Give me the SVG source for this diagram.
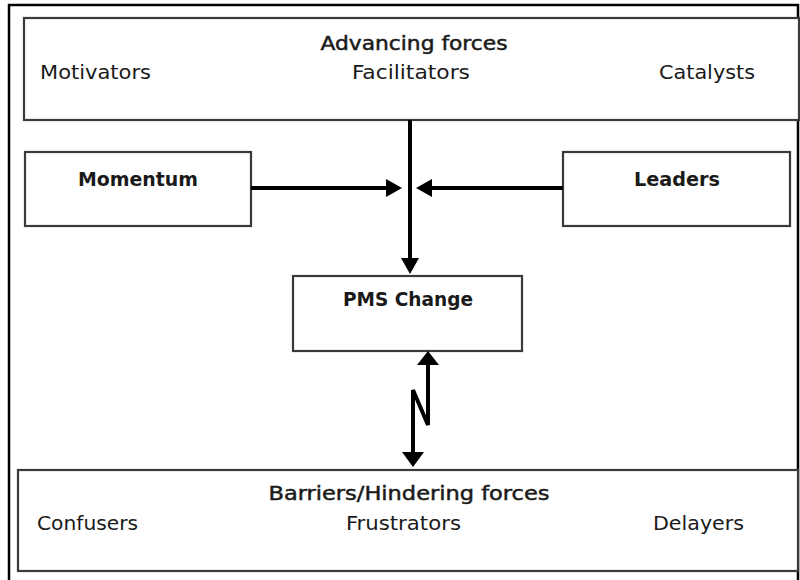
<svg xmlns="http://www.w3.org/2000/svg" width="800" height="580" viewBox="0 0 800 580">
  <style>
    .box { fill: #ffffff; stroke: #3a3a3a; stroke-width: 2.2; }
    .frame { fill: #ffffff; stroke: #000000; stroke-width: 2.5; }
    .lbl { font-family: "DejaVu Sans Condensed", "DejaVu Sans", sans-serif; font-size: 20px; fill: #1a1a1a; }
    .head { stroke: #1a1a1a; stroke-width: 0.45; }
    .bold { font-weight: bold; }
    .wire { fill: none; stroke: #000000; stroke-width: 4; }
    .tip { fill: #000000; stroke: none; }
  </style>

  <!-- outer frame -->
  <rect class="frame" x="9" y="5" width="789" height="580"/>

  <!-- advancing forces panel -->
  <g id="advancing-forces">
    <rect class="box" x="24" y="18" width="775" height="102"/>
    <text class="lbl head" x="414" y="50" text-anchor="middle" textLength="187" lengthAdjust="spacingAndGlyphs">Advancing forces</text>
    <text class="lbl" x="40" y="79" textLength="111" lengthAdjust="spacingAndGlyphs">Motivators</text>
    <text class="lbl" x="352" y="79" textLength="118" lengthAdjust="spacingAndGlyphs">Facilitators</text>
    <text class="lbl" x="659" y="79" textLength="96" lengthAdjust="spacingAndGlyphs">Catalysts</text>
  </g>

  <!-- momentum -->
  <g id="momentum">
    <rect class="box" x="25" y="152" width="226" height="74"/>
    <text class="lbl bold" x="138" y="186" text-anchor="middle" textLength="120" lengthAdjust="spacingAndGlyphs">Momentum</text>
  </g>

  <!-- leaders -->
  <g id="leaders">
    <rect class="box" x="563" y="152" width="227" height="74"/>
    <text class="lbl bold" x="677" y="186" text-anchor="middle" textLength="86" lengthAdjust="spacingAndGlyphs">Leaders</text>
  </g>

  <!-- PMS change -->
  <g id="pms-change">
    <rect class="box" x="293" y="276" width="229" height="75"/>
    <text class="lbl bold" x="408" y="306" text-anchor="middle" textLength="130" lengthAdjust="spacingAndGlyphs">PMS Change</text>
  </g>

  <!-- barriers / hindering forces panel -->
  <g id="hindering-forces">
    <rect class="box" x="18" y="470" width="780" height="101"/>
    <text class="lbl head" x="409" y="500" text-anchor="middle" textLength="281" lengthAdjust="spacingAndGlyphs">Barriers/Hindering forces</text>
    <text class="lbl" x="37" y="530" textLength="101" lengthAdjust="spacingAndGlyphs">Confusers</text>
    <text class="lbl" x="346" y="530" textLength="115" lengthAdjust="spacingAndGlyphs">Frustrators</text>
    <text class="lbl" x="653" y="530" textLength="91" lengthAdjust="spacingAndGlyphs">Delayers</text>
  </g>

  <!-- connectors -->
  <g id="connectors">
    <!-- advancing forces down to PMS change -->
    <line class="wire" x1="410" y1="120" x2="410" y2="259"/>
    <polygon class="tip" points="401,258 419,258 410,274"/>
    <!-- momentum into main flow -->
    <line class="wire" x1="251" y1="188" x2="388" y2="188"/>
    <polygon class="tip" points="386,179 386,197 402,188"/>
    <!-- leaders into main flow -->
    <line class="wire" x1="563" y1="188" x2="430" y2="188"/>
    <polygon class="tip" points="432,179 432,197 416,188"/>
    <!-- conflict link between PMS change and barriers -->
    <polyline class="wire" points="428,364 428,425 413,390 413,453" stroke-linejoin="miter"/>
    <polygon class="tip" points="417,365 439,365 428,351"/>
    <polygon class="tip" points="402,452 424,452 413,467"/>
  </g>
</svg>
